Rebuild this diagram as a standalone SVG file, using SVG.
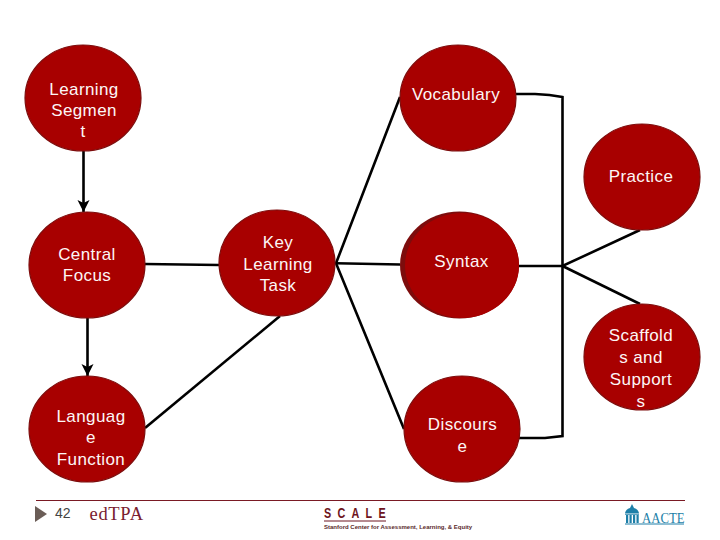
<svg xmlns="http://www.w3.org/2000/svg" width="720" height="540" viewBox="0 0 720 540">
<defs>
<marker id="arr" markerUnits="userSpaceOnUse" markerWidth="14" markerHeight="13" refX="12" refY="6.500" orient="auto"><path d="M0 0.500L12 6.500L0 12.500L3 6.500Z" fill="#000"/></marker>
</defs>
<style>
.n{fill:#a80000;stroke:#7d0c0c;stroke-width:1.2}
.s{fill:#7d0c0c}
.t{font-family:"Liberation Sans",Arial,sans-serif;font-size:17px;letter-spacing:.4px;fill:#fdf6f6;text-anchor:middle}
.c{fill:none;stroke:#000;stroke-width:2.6}
</style>
<rect width="720" height="540" fill="#fff"/>
<g id="connectors">
<path class="c" d="M83.500 151V212" marker-end="url(#arr)"/>
<path class="c" d="M87.500 318V376" marker-end="url(#arr)"/>
<path class="c" d="M145 264L219 265"/>
<path class="c" d="M336 263.300L400 264.500"/>
<path class="c" d="M400 97L336 263.300L404 429"/>
<path class="c" d="M516 94L535 94Q550 94.500 562.500 97V436L545 438L517 438"/>
<path class="c" d="M519 266H562.500L640 230"/>
<path class="c" d="M562.500 266L640 304"/>
<path class="c" d="M280 316L145 428"/>
</g>
<g id="learning-segment"><ellipse class="n" cx="83" cy="98" rx="58" ry="53"/><text class="t" x="84" y="94.500">Learning</text><text class="t" x="84" y="115.500">Segmen</text><text class="t" x="83" y="137">t</text></g>
<g id="central-focus"><ellipse class="n" cx="87" cy="265" rx="58" ry="53"/><text class="t" x="87" y="260">Central</text><text class="t" x="87" y="281">Focus</text></g>
<g id="language-function"><ellipse class="n" cx="87" cy="429" rx="58" ry="53"/><text class="t" x="91" y="421.500">Languag</text><text class="t" x="91" y="443">e</text><text class="t" x="91" y="464.500">Function</text></g>
<g id="key-learning-task"><ellipse class="n" cx="277" cy="263" rx="58" ry="53"/><text class="t" x="278" y="247.500">Key</text><text class="t" x="278" y="269.500">Learning</text><text class="t" x="278" y="290.500">Task</text></g>
<g id="vocabulary"><ellipse class="n" cx="458" cy="98" rx="58" ry="53"/><text class="t" x="456" y="100">Vocabulary</text></g>
<g id="practice"><ellipse class="n" cx="642" cy="177" rx="58" ry="53"/><text class="t" x="641" y="182">Practice</text></g>
<g id="syntax"><ellipse class="s" cx="459.500" cy="265" rx="59.500" ry="53.500"/><ellipse cx="462" cy="265.500" rx="57" ry="52.500" fill="#a80000"/><text class="t" x="461.500" y="267">Syntax</text></g>
<g id="scaffolds"><ellipse class="n" cx="642" cy="357" rx="58" ry="53"/><text class="t" x="641" y="341">Scaffold</text><text class="t" x="641" y="363">s and</text><text class="t" x="641" y="384.500">Support</text><text class="t" x="641" y="406.500">s</text></g>
<g id="discourse"><ellipse class="n" cx="462" cy="429" rx="58" ry="53"/><text class="t" x="462.500" y="430">Discours</text><text class="t" x="462.500" y="452">e</text></g>
<g id="footer">
<path d="M36 500.500H685" stroke="#7a1a24" stroke-width="1"/>
<path d="M35 506L47 514L35 522Z" fill="#6b5d57"/>
<text x="55" y="518" font-family="'Liberation Sans',Arial,sans-serif" font-size="14" fill="#444">42</text>
<text x="89.500" y="520" font-family="'Liberation Serif',serif" font-size="18.500" letter-spacing=".7" fill="#7a2030">edTPA</text>
<text transform="translate(324 517.800) scale(.72 1)" font-family="'Liberation Sans',sans-serif" font-size="15" font-weight="bold" letter-spacing="8.700" fill="#6d1420">SCALE</text>
<path d="M324 521H386" stroke="#6d1420"/>
<text x="324" y="528.500" font-family="'Liberation Sans',sans-serif" font-size="6" font-weight="bold" fill="#5a2a2a">Stanford Center for Assessment, Learning, &amp; Equity</text>
<g fill="#1e7fa8"><path d="M632 504L634 508Q638 509 639 513H625Q626 509 630 508Z"/><rect x="625" y="513.500" width="14" height="1.200"/><rect x="626" y="515" width="2.200" height="8"/><rect x="629.500" y="515" width="2.200" height="8"/><rect x="633" y="515" width="2.200" height="8"/><rect x="636.500" y="515" width="2.200" height="8"/><rect x="625" y="523.500" width="59" height="1"/></g>
<text x="642" y="522.800" font-family="'Liberation Serif',serif" font-size="14.500" textLength="42.500" lengthAdjust="spacingAndGlyphs" fill="#1e7fa8">AACTE</text>
</g>
</svg>
